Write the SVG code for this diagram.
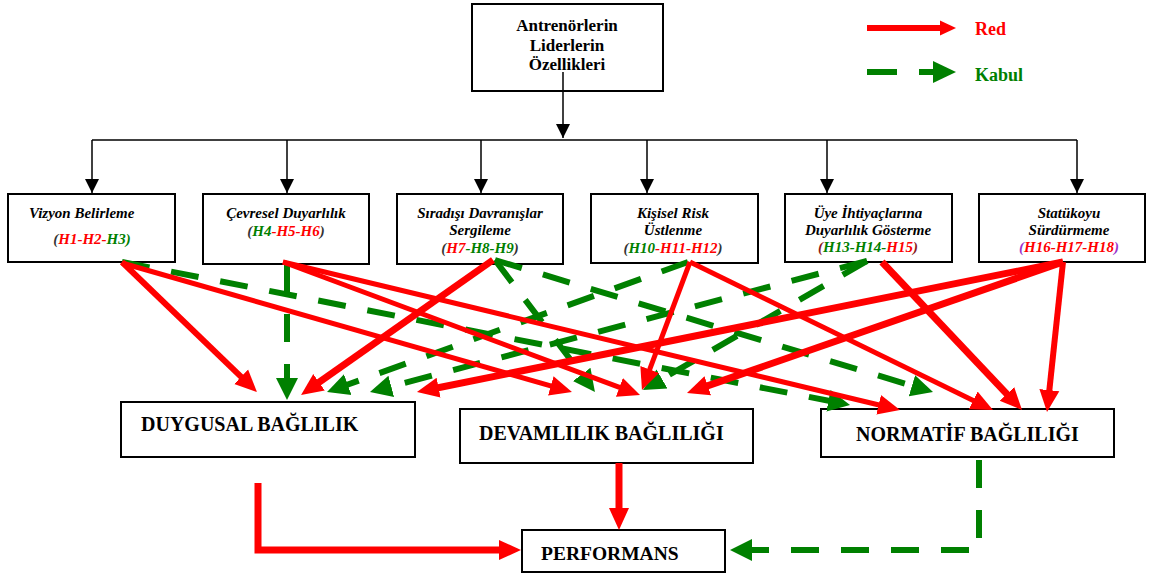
<svg xmlns="http://www.w3.org/2000/svg" width="1155" height="575" viewBox="0 0 1155 575">
<style>
.box{fill:#fff;stroke:#000;stroke-width:2}
.t{font-family:"Liberation Serif","Times New Roman",serif;font-weight:bold;fill:#000}
.it{font-style:italic;font-size:15px;text-anchor:middle}
.hd{font-size:17px;text-anchor:middle}
.big{font-size:20px}
.r{stroke:#f00;fill:none;stroke-width:5}
.r6{stroke-width:6}
.r7{stroke-width:7}
.g{stroke:#008000;fill:none;stroke-width:6;stroke-dasharray:28 22}
.k{stroke:#000;stroke-width:1.5;fill:none}
.cr{fill:#f00}.cg{fill:#008000}.cd{fill:#333}.cm{fill:#8b1a1a}.cp{fill:#9933cc}
</style>
<defs>
<marker id="ar" markerUnits="userSpaceOnUse" markerWidth="24" markerHeight="24" viewBox="0 -12 24 24" refX="8" refY="0" orient="auto"><path d="M0,-10 L22,0 L0,10 z" fill="#f00"/></marker>
<marker id="ag" markerUnits="userSpaceOnUse" markerWidth="24" markerHeight="24" viewBox="0 -12 24 24" refX="8" refY="0" orient="auto"><path d="M0,-11 L22,0 L0,11 z" fill="#008000"/></marker>
<marker id="ak" markerUnits="userSpaceOnUse" markerWidth="16" markerHeight="16" viewBox="0 -8 16 16" refX="14" refY="0" orient="auto"><path d="M0,-7 L14,0 L0,7 z" fill="#000"/></marker>
</defs>

<g id="legend">
<line x1="867" y1="28" x2="942" y2="28" stroke="#f00" stroke-width="6"/>
<polygon points="940,20.5 956,28 940,35.5" fill="#f00"/>
<text class="t cr" x="975" y="35" font-size="18">Red</text>
<line x1="867" y1="72" x2="897" y2="72" stroke="#008000" stroke-width="6"/>
<line x1="919" y1="72" x2="936" y2="72" stroke="#008000" stroke-width="6"/>
<polygon points="933,61 956,72 933,83" fill="#008000"/>
<text class="t cg" x="975" y="81" font-size="18">Kabul</text>
</g>

<g id="n-top">
<rect class="box" x="472" y="4" width="191" height="87"/>
<text class="t hd" x="567" y="31">Antrenörlerin</text>
<text class="t hd" x="567" y="51">Liderlerin</text>
<text class="t hd" x="567" y="70">Özellikleri</text>
</g>

<g id="n-vizyon">
<rect class="box" x="8" y="194" width="167" height="68"/>
<text class="t it" x="29" y="218" text-anchor="start" style="text-anchor:start">Vizyon Belirleme</text>
<text class="t it" x="92" y="244"><tspan class="cd">(</tspan><tspan class="cr">H1-H2-</tspan><tspan class="cg">H3)</tspan></text>
</g>

<g id="n-cevresel">
<rect class="box" x="203" y="194" width="166" height="70"/>
<text class="t it" x="286" y="218">Çevresel Duyarlılık</text>
<text class="t it" x="286" y="236"><tspan class="cd">(</tspan><tspan class="cg">H4</tspan><tspan class="cr">-H5-H6</tspan><tspan class="cd">)</tspan></text>
</g>

<g id="n-siradisi">
<rect class="box" x="397" y="194" width="166" height="70"/>
<text class="t it" x="480" y="218">Sıradışı Davranışlar</text>
<text class="t it" x="480" y="235">Sergileme</text>
<text class="t it" x="480" y="253"><tspan class="cd">(</tspan><tspan class="cr">H7</tspan><tspan class="cg">-H8-H9</tspan><tspan class="cd">)</tspan></text>
</g>

<g id="n-risk">
<rect class="box" x="591" y="194" width="167" height="69"/>
<text class="t it" x="673" y="218">Kişisel Risk</text>
<text class="t it" x="673" y="235">Üstlenme</text>
<text class="t it" x="673" y="253"><tspan class="cd">(</tspan><tspan class="cg">H10</tspan><tspan class="cr">-H11-H12</tspan><tspan class="cd">)</tspan></text>
</g>

<g id="n-uye">
<rect class="box" x="785" y="194" width="167" height="68"/>
<text class="t it" x="868" y="218">Üye İhtiyaçlarına</text>
<text class="t it" x="868" y="235">Duyarlılık Gösterme</text>
<text class="t it" x="868" y="252"><tspan class="cm">(</tspan><tspan class="cg">H13-H14-</tspan><tspan class="cr">H15</tspan><tspan class="cm">)</tspan></text>
</g>

<g id="n-statuko">
<rect class="box" x="979" y="194" width="166" height="68"/>
<text class="t it" x="1069" y="218">Statükoyu</text>
<text class="t it" x="1069" y="235">Sürdürmeme</text>
<text class="t it" x="1069" y="252"><tspan class="cp">(</tspan><tspan class="cr">H16-H17-H18</tspan><tspan class="cp">)</tspan></text>
</g>

<g id="n-duygusal">
<rect class="box" x="121" y="402" width="294" height="55"/>
<text class="t big" x="141" y="431">DUYGUSAL BAĞLILIK</text>
</g>

<g id="n-devamlilik">
<rect class="box" x="460" y="409" width="293" height="54"/>
<text class="t big" x="479" y="440">DEVAMLILIK BAĞLILIĞI</text>
</g>

<g id="n-normatif">
<rect class="box" x="821" y="409" width="293" height="48"/>
<text class="t big" x="856" y="441">NORMATİF BAĞLILIĞI</text>
</g>

<g id="n-performans">
<rect class="box" x="522" y="530" width="203" height="42"/>
<text class="t" x="541" y="560" font-size="19.5">PERFORMANS</text>
</g>

<g id="connectors">
<line class="k" x1="563" y1="72" x2="563" y2="138" marker-end="url(#ak)"/>
<line class="k" x1="92" y1="140" x2="1077" y2="140"/>
<line class="k" x1="92" y1="140" x2="92" y2="193" marker-end="url(#ak)"/>
<line class="k" x1="287" y1="140" x2="287" y2="193" marker-end="url(#ak)"/>
<line class="k" x1="481" y1="140" x2="481" y2="193" marker-end="url(#ak)"/>
<line class="k" x1="647" y1="140" x2="647" y2="193" marker-end="url(#ak)"/>
<line class="k" x1="827" y1="140" x2="827" y2="193" marker-end="url(#ak)"/>
<line class="k" x1="1077" y1="140" x2="1077" y2="193" marker-end="url(#ak)"/>

<line class="g" x1="122" y1="262" x2="836.3" y2="402.3" marker-end="url(#ag)"/>
<line class="g" x1="287" y1="264" x2="287" y2="386" marker-end="url(#ag)"/>
<line class="g" x1="495" y1="260" x2="586.5" y2="380.8" marker-end="url(#ag)"/>
<line class="g" x1="495" y1="260" x2="919.6" y2="388" marker-end="url(#ag)"/>
<line class="g" x1="688" y1="262" x2="340.2" y2="387.3" marker-end="url(#ag)"/>
<line class="g" x1="867" y1="261" x2="655.1" y2="383" marker-end="url(#ag)"/>
<line class="g" x1="867" y1="261" x2="383.5" y2="388.4" marker-end="url(#ag)"/>

<line class="r r6" x1="122" y1="262" x2="246.9" y2="382.3" marker-end="url(#ar)"/>
<line class="r" x1="122" y1="263" x2="558.5" y2="388.1" marker-end="url(#ar)"/>
<line class="r" x1="283" y1="262" x2="626.9" y2="390.1" marker-end="url(#ar)"/>
<line class="r" x1="283" y1="262" x2="886.4" y2="406.7" marker-end="url(#ar)"/>
<line class="r r7" x1="493" y1="260" x2="312.5" y2="386.9" marker-end="url(#ar)"/>
<line class="r" x1="690" y1="262" x2="646.9" y2="376.9" marker-end="url(#ar)"/>
<line class="r" x1="690" y1="262" x2="980.4" y2="403.9" marker-end="url(#ar)"/>
<line class="r r7" x1="882" y1="262" x2="1012.4" y2="399.8" marker-end="url(#ar)"/>
<line class="r r7" x1="1063" y1="262" x2="430.7" y2="389.2" marker-end="url(#ar)"/>
<line class="r r7" x1="1063" y1="262" x2="700.2" y2="388.4" marker-end="url(#ar)"/>
<line class="r r6" x1="1063" y1="262" x2="1048.5" y2="398.1" marker-end="url(#ar)"/>

<path class="r r7" d="M258,483 V550 H507" marker-end="url(#ar)"/>
<path class="r r7" d="M619,463 V516" marker-end="url(#ar)"/>
<path class="g" d="M979,460 V550 H744" marker-end="url(#ag)"/>
</g>
</svg>
